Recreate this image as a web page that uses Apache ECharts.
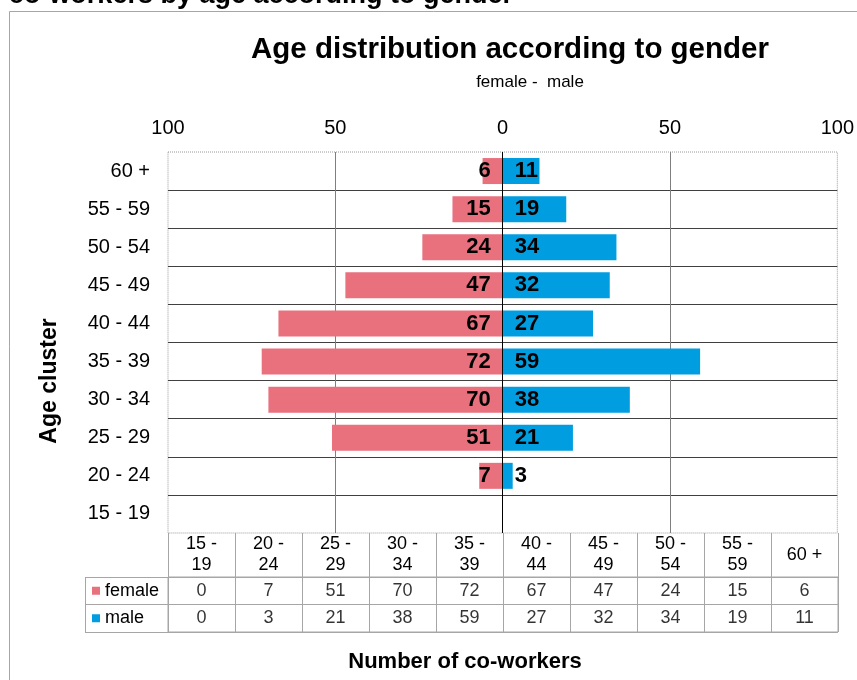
<!DOCTYPE html>
<html>
<head>
<meta charset="utf-8">
<script src="https://cdn.jsdelivr.net/npm/echarts@6/dist/echarts.min.js"></script>
<style>html,body{margin:0;padding:0;background:#fff}#c{width:857px;height:680px}</style>
</head>
<body>
<div id="c"></div>
<script>
// ---- data ----
const ages = ['15 - 19','20 - 24','25 - 29','30 - 34','35 - 39','40 - 44','45 - 49','50 - 54','55 - 59','60 +'];
const female = [0, 7, 51, 70, 72, 67, 47, 24, 15, 6];
const male = [0, 3, 21, 38, 59, 27, 32, 34, 19, 11];
const tickLabels = ['100', '50', '0', '50', '100'];
const rowNames = ['female', 'male'];

const FONT = '"Liberation Sans", Arial, sans-serif';
const PINK = '#E9717E';
const BLUE = '#009EE0';
const TABLE = '#a6a6a6';

const chart = echarts.init(document.getElementById('c'), null, {renderer: 'canvas'});

const tableData = [];
female.forEach((v, i) => tableData.push([i, 0, v]));
male.forEach((v, i) => tableData.push([i, 1, v]));

chart.setOption({
  animation: false,
  textStyle: {fontFamily: FONT},
  grid: [
    {left: 168, right: 19, top: 152, bottom: 147, show: true, borderColor: '#9a9a9a', borderType: 'dotted', borderWidth: 1},
    {left: 168, right: 19, top: 577, bottom: 48, show: true, borderColor: TABLE, borderWidth: 1}
  ],
  xAxis: [
    {
      gridIndex: 0, type: 'value', position: 'top', min: -100, max: 100, interval: 50,
      axisLine: {show: false}, axisTick: {show: false},
      axisLabel: {formatter: v => tickLabels[Math.round((v + 100) / 50)], fontSize: 20, color: '#000', margin: 14, showMinLabel: true, showMaxLabel: true, fontFamily: FONT},
      splitLine: {show: true, lineStyle: {color: ['transparent', '#7f7f7f', '#7f7f7f', '#7f7f7f', 'transparent'], width: 1}}
    },
    {
      gridIndex: 1, type: 'category', position: 'top', data: ages,
      axisLine: {show: false},
      axisTick: {show: true, length: 44, lineStyle: {color: TABLE}},
      axisLabel: {formatter: v => v.replace(' - ', ' -\n'), fontSize: 18, lineHeight: 21, color: '#000', margin: 22, verticalAlign: 'middle', interval: 0, fontFamily: FONT},
      splitLine: {show: true, lineStyle: {color: TABLE}}
    }
  ],
  yAxis: [
    {
      gridIndex: 0, type: 'category', data: ages,
      axisLine: {show: false, onZero: false}, axisTick: {show: false},
      axisLabel: {fontSize: 20, color: '#000', margin: 18, fontFamily: FONT},
      splitLine: {show: true, lineStyle: {color: ['transparent', '#404040', '#404040', '#404040', '#404040', '#404040', '#404040', '#404040', '#404040', '#404040', 'transparent']}}
    },
    {
      gridIndex: 1, type: 'category', data: rowNames, inverse: true,
      axisLine: {show: false},
      axisTick: {show: true, length: 83, lineStyle: {color: TABLE}},
      axisLabel: {
        align: 'left', margin: 76, color: '#000',
        formatter: v => (v === 'female' ? '{sqF|}' : '{sqM|}') + '{t|' + v + '}',
        rich: {
          sqF: {width: 8, height: 8, backgroundColor: PINK},
          sqM: {width: 8, height: 8, backgroundColor: BLUE},
          t: {fontSize: 18, color: '#000', padding: [0, 0, 0, 5], fontFamily: FONT}
        }
      },
      splitLine: {show: true, lineStyle: {color: TABLE}}
    }
  ],
  series: [
    {
      name: 'female', type: 'bar', xAxisIndex: 0, yAxisIndex: 0,
      data: female.map(v => -v), barWidth: 26, barGap: '-100%',
      itemStyle: {color: PINK},
      label: {show: true, position: 'insideRight', distance: 12, formatter: p => female[p.dataIndex] ? String(female[p.dataIndex]) : '', fontSize: 22, fontWeight: 'bold', color: '#000', fontFamily: FONT}
    },
    {
      name: 'male', type: 'bar', xAxisIndex: 0, yAxisIndex: 0,
      data: male, barWidth: 26, barGap: '-100%',
      itemStyle: {color: BLUE},
      label: {show: true, position: 'insideLeft', distance: 12, formatter: p => male[p.dataIndex] ? String(male[p.dataIndex]) : '', fontSize: 22, fontWeight: 'bold', color: '#000', fontFamily: FONT},
      markLine: {silent: true, symbol: 'none', label: {show: false}, lineStyle: {color: '#000', type: 'solid', width: 1}, data: [{xAxis: 0}]}
    },
    {
      name: 'table', type: 'scatter', xAxisIndex: 1, yAxisIndex: 1, silent: true,
      data: tableData, symbolSize: 1, itemStyle: {color: 'transparent'},
      label: {show: true, position: 'inside', formatter: p => String(p.value[2]), fontSize: 18, color: '#000', fontFamily: FONT}
    }
  ],
  graphic: [
    {type: 'rect', shape: {x: 9.5, y: 11.5, width: 900, height: 700}, style: {fill: 'none', stroke: '#a6a6a6', lineWidth: 1}, silent: true},
    {type: 'line', shape: {x1: 85.5, y1: 577, x2: 85.5, y2: 632}, style: {stroke: TABLE, lineWidth: 1}, silent: true},
    {type: 'text', x: 513, y: -4, style: {text: 'Number of co-workers by age according to gender', fontSize: 27, fontWeight: 'bold', fontFamily: FONT, fill: '#000', align: 'right', verticalAlign: 'middle'}},
    {type: 'text', x: 510, y: 50, style: {text: 'Age distribution according to gender', fontSize: 29.5, fontWeight: 'bold', fontFamily: FONT, fill: '#000', align: 'center', verticalAlign: 'middle'}},
    {type: 'text', x: 530, y: 82, style: {text: 'female -  male', fontSize: 17, fontFamily: FONT, fill: '#000', align: 'center', verticalAlign: 'middle'}},
    {type: 'text', x: 465, y: 662, style: {text: 'Number of co-workers', fontSize: 22, fontWeight: 'bold', fontFamily: FONT, fill: '#000', align: 'center', verticalAlign: 'middle'}},
    {type: 'text', x: 50, y: 381, rotation: Math.PI / 2, style: {text: 'Age cluster', fontSize: 23, fontWeight: 'bold', fontFamily: FONT, fill: '#000', align: 'center', verticalAlign: 'middle'}}
  ]
});
</script>
</body>
</html>
